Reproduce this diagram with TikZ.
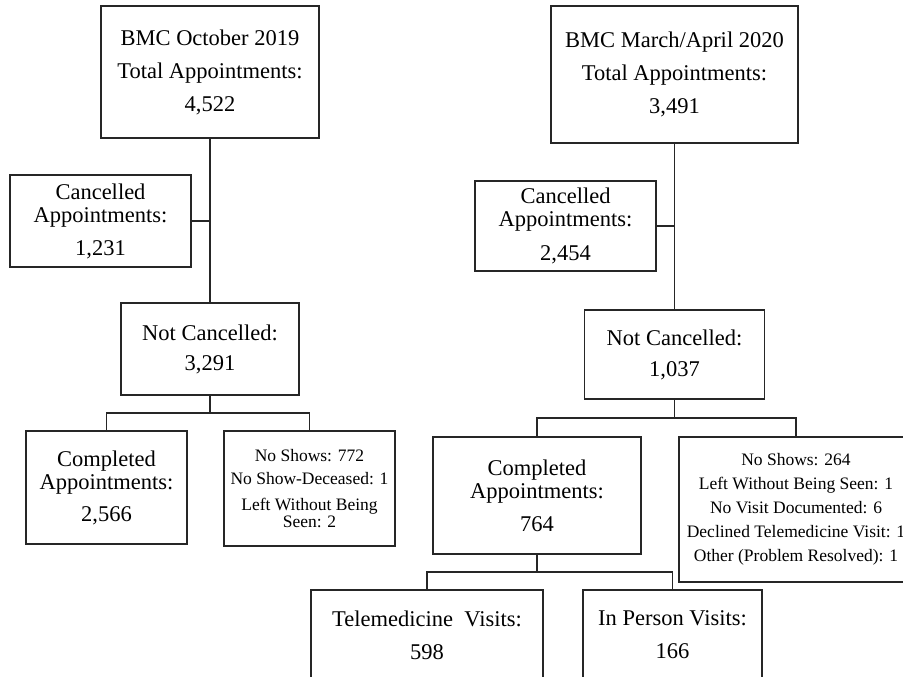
\documentclass[tikz,border=0pt]{standalone}
\usepackage{fontspec}
\setmainfont{Liberation Serif}
\usetikzlibrary{calc}
\newcommand\myBig{\fontsize{22.5}{23}\selectfont}
\newcommand\mySmall{\fontsize{17.5}{17}\selectfont}
\tikzset{
  box/.style={draw=black!85, line width=1.1pt, inner sep=0pt, align=center, font=\myBig},
  sbox/.style={box, font=\mySmall},
  link/.style={draw=black!85, line width=1.6pt},
}
\begin{document}
\begin{tikzpicture}[x=1pt, y=-1pt]
\useasboundingbox (0,0) rectangle (903,677);
\fill[white] (0,0) rectangle (903,677);
\clip (0,0) rectangle (903,677);

% Left tree: October 2019
\node[box, minimum width=218pt, minimum height=132pt] (top1) at (210,72)
  {BMC October 2019\\[10pt]Total Appointments:\\[10pt]4,522};
\node[box, minimum width=181pt, minimum height=92pt] (canc1) at (100.5,221)
  {Cancelled\\Appointments:\\[10pt]1,231};
\node[box, minimum width=178pt, minimum height=92pt] (nc1) at (210,349)
  {Not Cancelled:\\[7pt]3,291};
\node[box, minimum width=161pt, minimum height=113pt] (comp1) at (106.5,487.5)
  {Completed\\Appointments:\\[9pt]2,566};
\node[sbox, minimum width=171pt, minimum height=115pt] (ns1) at (309.5,488.5)
  {No Shows: 772\\[6pt]No Show-Deceased: 1\\[9pt]Left Without Being\\Seen: 2};

% Right tree: March/April 2020
\node[box, minimum width=247pt, minimum height=137pt] (top2) at (674.5,74.5)
  {BMC March/April 2020\\[10pt]Total Appointments:\\[10pt]3,491};
\node[box, minimum width=181pt, minimum height=90pt] (canc2) at (565.5,226)
  {Cancelled\\Appointments:\\[11pt]2,454};
\node[box, minimum width=180pt, minimum height=89pt] (nc2) at (674.5,354.5)
  {Not Cancelled:\\[8pt]1,037};
\node[box, minimum width=208pt, minimum height=117pt] (comp2) at (537,495.5)
  {Completed\\Appointments:\\[10pt]764};
\node[sbox, minimum width=234pt, minimum height=145pt] (ns2) at (796,509.5)
  {No Shows: 264\\[7pt]Left Without Being Seen: 1\\[7pt]No Visit Documented: 6\\[7pt]Declined Telemedicine Visit: 1\\[7pt]Other (Problem Resolved): 1};
\node[box, minimum width=232pt, minimum height=90pt] (tele) at (427,635)
  {Telemedicine\ \ Visits:\\[10pt]598};
\node[box, minimum width=179pt, minimum height=90pt] (inp) at (672.5,635)
  {In Person Visits:\\[10pt]166};

% Connectors left
\draw[link] (top1.south) -- (nc1.north);
\draw[link] (canc1.east) -- (canc1.east -| top1.south);
\coordinate (s1) at ($(nc1.south)!0.5!(comp1.north)$);
\draw[link] (nc1.south) -- (nc1.south |- s1) -| (comp1.north);
\draw[link] (nc1.south |- s1) -| (ns1.north);

% Connectors right
\draw[link] (top2.south) -- (nc2.north);
\draw[link] (canc2.east) -- (canc2.east -| top2.south);
\coordinate (s2) at ($(nc2.south)!0.5!(comp2.north)$);
\draw[link] (nc2.south) -- (nc2.south |- s2) -| (comp2.north);
\draw[link] (nc2.south |- s2) -| (ns2.north);
\coordinate (s3) at ($(comp2.south)!0.5!(tele.north)$);
\draw[link] (comp2.south) -- (comp2.south |- s3) -| (tele.north);
\draw[link] (comp2.south |- s3) -| (inp.north);
\end{tikzpicture}
\end{document}
